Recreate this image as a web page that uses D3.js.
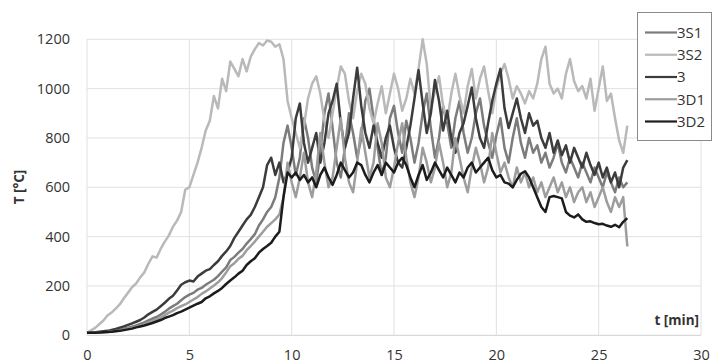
<!DOCTYPE html>
<html>
<head>
<meta charset="utf-8">
<script src="https://cdn.jsdelivr.net/npm/d3@7"></script>
<style>
  html, body { margin: 0; padding: 0; background: #fff; }
  svg { display: block; }
  text { font-family: "Open Sans", "Liberation Sans", sans-serif; fill: #333; }
</style>
</head>
<body>
<svg id="chart" width="712" height="363"></svg>
<script>
// Temperature readings sampled every 0.2 min
const times = d3.range(0, 133).map(i => +(i * 0.2).toFixed(1));

const s3S1 = [10,10,11,12,13, 15,17,20,23,27, 31,35,40,46,52, 60,68,74,84,95,
  108,118,128,142,155, 165,172,185,192,205, 215,225,240,258,275, 305,318,335,350,372,
  390,410,445,470,500, 520,560,640,780,850, 760,650,720,880,800, 680,620,740,900,980,
  840,700,640,760,900, 820,720,800,950,1000, 880,760,650,720,880, 930,820,740,870,800,
  700,780,900,980,840, 720,800,930,860,760, 880,950,820,740,800, 900,960,850,780,720,
  810,880,760,700,800, 880,780,720,800,740, 770,700,740,680,720, 780,700,660,720,680,
  640,700,660,620,680, 640,600,660,620,580, 640,600,620];

const s3S2 = [10,20,30,45,60, 80,92,108,125,150, 172,195,210,235,255, 290,320,315,350,380,
  405,440,465,500,590, 600,650,700,760,830, 870,970,920,1040,990, 1110,1080,1050,1120,1070,
  1130,1160,1185,1175,1195, 1190,1170,1180,1120,950, 880,820,760,850,960, 1020,1050,980,870,800,
  900,1000,1090,1060,950, 880,990,1060,1020,920, 860,940,1010,900,980, 1060,1000,910,960,1040,
  980,1080,1200,1100,920, 990,1050,930,870,980, 1060,970,900,1010,1080, 960,1040,1090,990,900,
  1000,1060,1100,1040,960, 1010,980,940,990,960, 1020,1120,1170,1020,980, 1000,960,1060,1120,1030,
  990,1010,960,1040,910, 1000,1090,950,980,880, 790,740,850];

const s3 = [10,11,12,14,16, 18,22,26,31,36, 42,48,55,62,72, 85,95,104,118,132,
  148,160,182,205,215, 222,218,238,250,262, 268,285,300,322,340, 362,395,420,445,470,
  488,520,560,600,690, 720,650,700,620,660, 720,880,940,780,700, 760,820,700,780,900,
  950,1020,860,760,820, 960,1085,930,820,760, 850,780,720,800,850, 760,700,680,760,850,
  960,1075,940,820,900, 1035,950,830,910,800, 740,820,860,930,1005, 880,800,760,860,950,
  1020,1080,920,840,900, 960,880,820,900,850, 870,800,760,820,740, 790,730,770,700,760,
  720,680,740,690,650, 700,640,680,620,660, 600,680,710];

const s3D1 = [10,10,10,11,12, 13,15,17,20,23, 27,30,34,39,45, 52,58,64,72,82,
  92,100,110,118,125, 135,145,155,168,178, 190,202,215,232,255, 280,292,310,322,345,
  362,380,400,420,440, 455,470,490,560,700, 620,560,640,740,620, 560,660,820,700,600,
  640,760,880,720,620, 580,700,840,740,640, 700,860,780,640,600, 680,780,860,720,620,
  560,640,760,700,620, 680,780,700,600,660, 800,720,640,580,680, 760,700,620,680,820,
  740,660,700,640,600, 680,620,660,600,640, 580,620,560,600,640, 580,620,560,600,540,
  580,600,540,580,520, 560,600,540,500,560, 520,560,360];

const s3D2 = [10,10,10,11,12, 13,14,16,18,21, 24,27,32,36,40, 45,50,56,62,70,
  76,82,90,96,104, 112,120,128,135,150, 158,170,180,192,208, 222,235,250,262,285,
  300,312,335,350,362, 375,400,420,560,660, 640,660,630,650,620, 640,600,650,680,640,
  610,650,700,670,640, 660,700,690,650,620, 660,690,650,700,680, 660,700,720,690,640,
  600,650,690,630,660, 700,670,640,680,650, 620,660,640,680,700, 660,680,700,720,670,
  640,650,620,615,600, 630,655,665,640,600, 560,520,500,560,565, 560,555,500,485,478,
  490,470,460,462,455, 450,452,445,440,448, 438,460,475];

const seriesNames = ["3S1", "3S2", "3", "3D1", "3D2"];
const seriesValues = [s3S1, s3S2, s3, s3D1, s3D2];
const seriesColors = ["#7c7c7c", "#b9b9b9", "#3c3c3c", "#9d9d9d", "#1c1c1c"];

const xTicks = [0, 5, 10, 15, 20, 25, 30];
const yTicks = [0, 200, 400, 600, 800, 1000, 1200];

const svg = d3.select("#chart");
const plot = { left: 87, right: 701, top: 39.3, bottom: 335.3 };

const x = d3.scaleLinear().domain([0, 30]).range([plot.left, plot.right]);
const y = d3.scaleLinear().domain([0, 1200]).range([plot.bottom, plot.top]);

// gridlines
const grid = svg.append("g");
grid.selectAll("line.h").data(yTicks).join("line")
  .attr("x1", plot.left).attr("x2", plot.right)
  .attr("y1", d => y(d)).attr("y2", d => y(d))
  .attr("stroke", d => d === 0 ? "#cfcfcf" : "#e0e0e0").attr("stroke-width", 1);
grid.selectAll("line.v").data(xTicks).join("line")
  .attr("y1", plot.top).attr("y2", plot.bottom)
  .attr("x1", d => x(d)).attr("x2", d => x(d))
  .attr("stroke", "#e0e0e0").attr("stroke-width", 1);

// axes (labels only)
const yAxis = svg.append("g")
  .attr("transform", `translate(${plot.left},0)`)
  .call(d3.axisLeft(y).tickValues(yTicks).tickFormat(d3.format("d")).tickSize(0).tickPadding(17));
const xAxis = svg.append("g")
  .attr("transform", `translate(0,${plot.bottom})`)
  .call(d3.axisBottom(x).tickValues(xTicks).tickFormat(d3.format("d")).tickSize(0).tickPadding(14));
[yAxis, xAxis].forEach(a => {
  a.select(".domain").remove();
  a.selectAll("text")
    .attr("font-family", "'Open Sans', 'Liberation Sans', sans-serif")
    .attr("font-size", 14.5).attr("fill", "#3a3a3a");
});

// series lines
const line = d3.line()
  .x((d, i) => x(times[i]))
  .y(d => y(d));

svg.append("g").selectAll("path").data(seriesValues).join("path")
  .attr("d", d => line(d))
  .attr("fill", "none")
  .attr("stroke", (d, i) => seriesColors[i])
  .attr("stroke-width", 2.5)
  .attr("stroke-linejoin", "round");

// axis titles
svg.append("text")
  .attr("transform", "translate(24,187) rotate(-90)")
  .attr("text-anchor", "middle")
  .attr("font-size", 13.5).attr("font-weight", "bold").attr("fill", "#333")
  .text("T [°C]");
svg.append("text")
  .attr("x", 699).attr("y", 325)
  .attr("text-anchor", "end")
  .attr("font-size", 13.5).attr("font-weight", "bold").attr("fill", "#333")
  .text("t [min]");

// legend
const legend = svg.append("g");
legend.append("rect")
  .attr("x", 637.5).attr("y", 12.5).attr("width", 74).attr("height", 128)
  .attr("fill", "#fff").attr("stroke", "#8a8a8a").attr("stroke-width", 1);
const rowY = d3.scaleLinear().domain([0, 4]).range([32.5, 121.5]);
const rows = legend.selectAll("g.row").data(seriesNames).join("g")
  .attr("transform", (d, i) => `translate(0,${rowY(i)})`);
rows.append("line")
  .attr("x1", 645).attr("x2", 677).attr("y1", 0).attr("y2", 0)
  .attr("stroke", (d, i) => seriesColors[i]).attr("stroke-width", 2.2);
rows.append("text")
  .attr("x", 677).attr("y", 0).attr("dy", "0.36em")
  .attr("font-size", 15).attr("fill", "#333")
  .text(d => d);
</script>
</body>
</html>
